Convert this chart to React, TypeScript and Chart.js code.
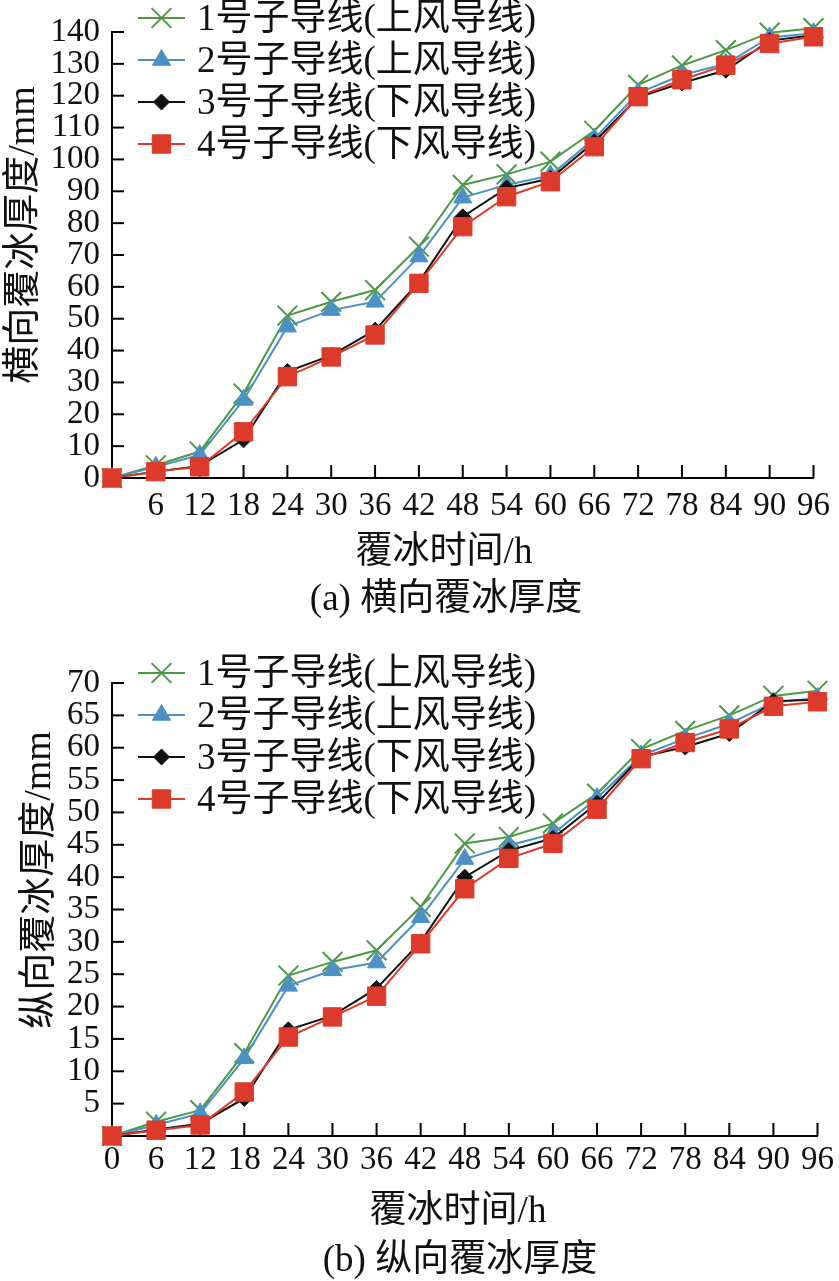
import React, { useEffect, useRef } from "react";
import { Chart, registerables } from "chart.js";
import { drawPoint } from "chart.js/helpers";

Chart.register(...registerables);

// ---------- data ----------
const hours = [0, 6, 12, 18, 24, 30, 36, 42, 48, 54, 60, 66, 72, 78, 84, 90, 96];

const seriesNames = [
  "1号子导线(上风导线)",
  "2号子导线(上风导线)",
  "3号子导线(下风导线)",
  "4号子导线(下风导线)",
];

// (a) transverse ice thickness, mm
const transverseWire1 = [0, 4, 8.3, 26.5, 51, 55.3, 59, 72.6, 92, 95.3, 99.3, 109, 123.4, 129.5, 134.3, 139.8, 141.2];
const transverseWire2 = [0, 3.5, 7.2, 24.5, 47.5, 52.7, 55.3, 69.5, 88, 92, 95, 106.5, 120.8, 126.5, 130, 138.3, 139.6];
const transverseWire3 = [0, 2, 3.8, 12, 33.4, 38.5, 46.4, 61.5, 82, 91, 94, 105.5, 119.5, 124, 128, 137.3, 139];
const transverseWire4 = [0, 2, 3.5, 14.5, 31.8, 38, 44.9, 61.1, 78.9, 88.3, 93, 104, 119.7, 125, 129.6, 136.4, 138.5];

// (b) longitudinal ice thickness, mm
const longitudinalWire1 = [0, 2.2, 4, 12.8, 24.8, 26.9, 28.7, 35.4, 45.2, 46.2, 48.3, 52.9, 59.8, 62.6, 65, 68, 68.8];
const longitudinalWire2 = [0, 1.7, 3.5, 12, 23.2, 25.6, 26.8, 33.8, 42.8, 44.9, 46.7, 52.2, 58.8, 61.4, 63.7, 67, 67.7];
const longitudinalWire3 = [0, 1, 1.9, 5.8, 16.4, 18.6, 22.8, 30, 40, 44.1, 46, 51.4, 58.6, 60.1, 62.2, 67.2, 67.4];
const longitudinalWire4 = [0, 0.9, 1.7, 6.8, 15.3, 18.4, 21.6, 29.7, 38.2, 42.9, 45.2, 50.5, 58.3, 60.8, 62.9, 66.4, 67.1];

const xTickStep = 6;
const yTickStepA = 10;
const yMaxA = 140;
const yTickStepB = 5;
const yMaxB = 70;

// ---------- styles ----------
const COLORS = ["#4a9a45", "#4d90c6", "#111111", "#dc3a2a"];
const POINT_STYLES = ["crossRot", "triangle", "rectRot", "rect"];
const POINT_RADII = [14, 10.5, 8, 13];
const ORDERS = [3, 2, 1, 0];

const TICK_FONT = { family: "'Liberation Serif', 'Times New Roman', serif", size: 33 };
const LEGEND_FONT = "37px 'Liberation Serif', 'Noto Sans CJK SC', serif";
const TITLE_FAMILY = "'Liberation Serif', 'Noto Sans CJK SC', serif";

function buildDatasets(series: number[][]) {
  return series.map((vals, i) => ({
    label: seriesNames[i],
    data: hours.map((h, j) => ({ x: h, y: vals[j] })),
    borderColor: COLORS[i],
    backgroundColor: COLORS[i],
    borderWidth: 2,
    pointStyle: POINT_STYLES[i],
    pointRadius: POINT_RADII[i],
    pointBorderWidth: i === 0 ? 2 : 1,
    pointBorderColor: COLORS[i],
    pointBackgroundColor: COLORS[i],
    tension: 0,
    clip: false,
    order: ORDERS[i],
  }));
}

// inward ticks drawn on the library's scales
const innerTicksPlugin = {
  id: "innerTicks",
  beforeDatasetsDraw(chart: any) {
    const { ctx, chartArea, scales } = chart;
    ctx.save();
    ctx.strokeStyle = "#000";
    ctx.lineWidth = 2;
    const xs = scales.x;
    xs.ticks.forEach((t: any) => {
      if (t.value === 0) return;
      const px = xs.getPixelForValue(t.value);
      ctx.beginPath();
      ctx.moveTo(px, chartArea.bottom);
      ctx.lineTo(px, chartArea.bottom - 13);
      ctx.stroke();
    });
    const ys = scales.y;
    ys.ticks.forEach((t: any) => {
      if (t.value === 0) return;
      const py = ys.getPixelForValue(t.value);
      ctx.beginPath();
      ctx.moveTo(chartArea.left, py);
      ctx.lineTo(chartArea.left + 12, py);
      ctx.stroke();
    });
    ctx.restore();
  },
};

// vertical legend overlapping the top-left of the plot
const stackedLegendPlugin = {
  id: "stackedLegend",
  afterDraw(chart: any, _args: any, opts: any) {
    const { ctx, chartArea } = chart;
    const offset = opts.offset ?? -12;
    const spacing = opts.spacing ?? 42;
    ctx.save();
    chart.data.datasets.forEach((ds: any, i: number) => {
      const y = chartArea.top + offset + i * spacing;
      const x0 = chartArea.left + 26;
      const x1 = chartArea.left + 73;
      ctx.strokeStyle = ds.borderColor;
      ctx.lineWidth = 2;
      ctx.beginPath();
      ctx.moveTo(x0, y);
      ctx.lineTo(x1, y);
      ctx.stroke();
      ctx.fillStyle = ds.pointBackgroundColor;
      ctx.strokeStyle = ds.pointBorderColor;
      ctx.lineWidth = ds.pointBorderWidth;
      drawPoint(ctx, { pointStyle: ds.pointStyle, radius: ds.pointRadius, rotation: 0, borderWidth: ds.pointBorderWidth }, (x0 + x1) / 2, y);
      ctx.fillStyle = "#111";
      ctx.font = LEGEND_FONT;
      ctx.textBaseline = "middle";
      ctx.textAlign = "left";
      ctx.fillText(ds.label, chartArea.left + 85, y + 2);
    });
    ctx.restore();
  },
};

function makeConfig(
  series: number[][],
  yMax: number,
  yStep: number,
  hideX0: boolean,
  hideY0: boolean,
  padTop: number,
  xHeight: number,
  xPad: number,
  legendOffset: number
): any {
  return {
    type: "line",
    data: { datasets: buildDatasets(series) },
    plugins: [innerTicksPlugin, stackedLegendPlugin],
    options: {
      animation: false,
      responsive: false,
      events: [],
      layout: { padding: { top: padTop, right: 21, bottom: 0, left: 8 } },
      plugins: {
        legend: { display: false },
        tooltip: { enabled: false },
        title: { display: false },
        stackedLegend: { offset: legendOffset, spacing: 42 },
      },
      scales: {
        x: {
          type: "linear",
          min: 0,
          max: 96,
          afterFit(scale: any) {
            scale.height = xHeight;
          },
          ticks: {
            stepSize: xTickStep,
            color: "#111",
            font: TICK_FONT,
            padding: xPad,
            maxRotation: 0,
            autoSkip: false,
            callback: (v: number) => (hideX0 && v === 0 ? "" : String(v)),
          },
          grid: { display: true, drawOnChartArea: false, drawTicks: false, color: "#000" },
          border: { display: true, color: "#000", width: 2 },
        },
        y: {
          type: "linear",
          min: 0,
          max: yMax,
          afterFit(scale: any) {
            scale.width = 104;
          },
          ticks: {
            stepSize: yStep,
            color: "#111",
            font: TICK_FONT,
            padding: 12,
            autoSkip: false,
            callback: (v: number) => (hideY0 && v === 0 ? "" : String(v)),
          },
          grid: { display: true, drawOnChartArea: false, drawTicks: false, color: "#000" },
          border: { display: true, color: "#000", width: 2 },
        },
      },
    },
  };
}

function LineCanvas({ config, top, height }: { config: any; top: number; height: number }) {
  const ref = useRef<HTMLCanvasElement | null>(null);
  useEffect(() => {
    if (!ref.current) return;
    const chart = new Chart(ref.current, config);
    return () => chart.destroy();
  }, [config]);
  return (
    <canvas
      ref={ref}
      width={839}
      height={height}
      style={{ position: "absolute", left: 0, top, width: 839, height }}
    />
  );
}

function TextAt({ text, cx, cy, size, rotate }: { text: string; cx: number; cy: number; size: number; rotate?: boolean }) {
  const w = 500;
  const h = size + 6;
  return (
    <div
      style={{
        position: "absolute",
        left: cx - w / 2,
        top: cy - h / 2,
        width: w,
        height: h,
        lineHeight: `${h}px`,
        textAlign: "center",
        fontFamily: TITLE_FAMILY,
        fontSize: size,
        color: "#111",
        whiteSpace: "nowrap",
        transform: rotate ? "rotate(-90deg)" : undefined,
      }}
    >
      {text}
    </div>
  );
}

const configA = makeConfig(
  [transverseWire1, transverseWire2, transverseWire3, transverseWire4],
  yMaxA, yTickStepA, true, false, 32, 82, 9, -14
);
const configB = makeConfig(
  [longitudinalWire1, longitudinalWire2, longitudinalWire3, longitudinalWire4],
  yMaxB, yTickStepB, false, true, 43, 64, 5, -10
);

export default function App() {
  return (
    <div style={{ position: "absolute", left: 0, top: 0, width: 839, height: 1281, background: "#fff", overflow: "hidden" }}>
      <LineCanvas config={configA} top={0} height={560} />
      <TextAt text="横向覆冰厚度/mm" cx={21} cy={235} size={38} rotate />
      <TextAt text="覆冰时间/h" cx={444} cy={550} size={37} />
      <TextAt text="(a) 横向覆冰厚度" cx={446} cy={597} size={37} />

      <LineCanvas config={configB} top={640} height={560} />
      <TextAt text="纵向覆冰厚度/mm" cx={37} cy={880} size={38} rotate />
      <TextAt text="覆冰时间/h" cx={458} cy={1209} size={37} />
      <TextAt text="(b) 纵向覆冰厚度" cx={460} cy={1258} size={37} />
    </div>
  );
}
